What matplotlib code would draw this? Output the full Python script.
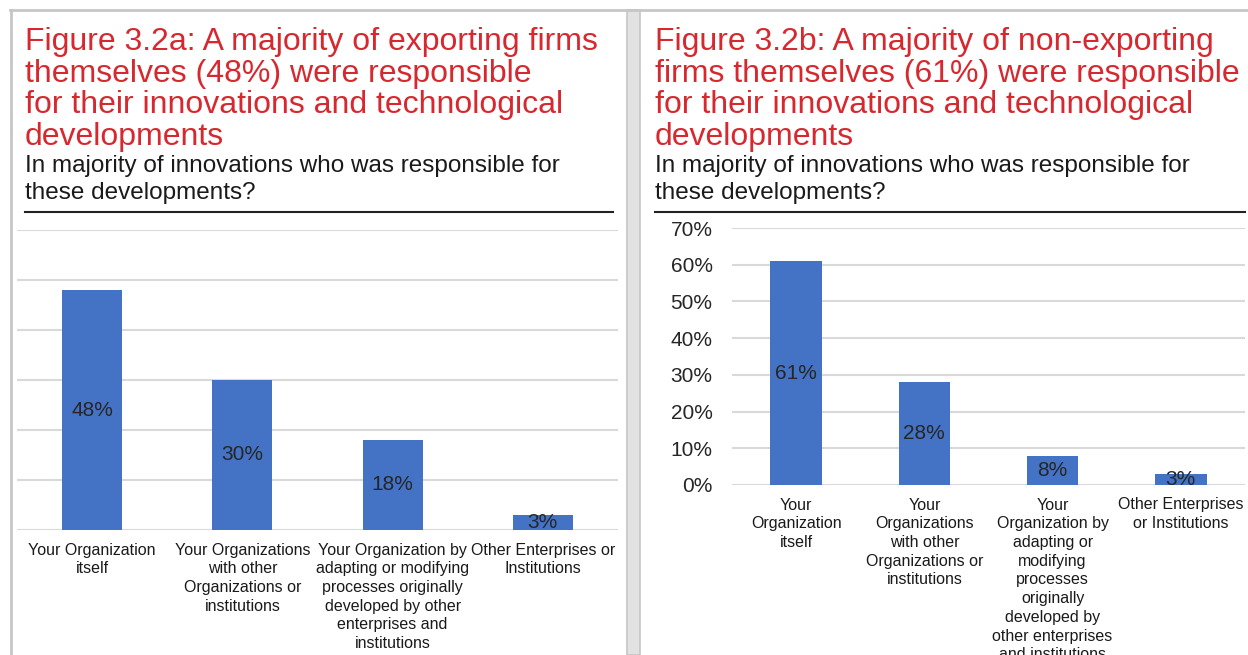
import matplotlib
matplotlib.use("Agg")
import matplotlib.pyplot as plt
from matplotlib.lines import Line2D
from matplotlib.patches import Rectangle
from matplotlib.ticker import PercentFormatter

plt.rcParams['font.family'] = ['Liberation Sans', 'DejaVu Sans']

# data
labels_a = ['Your Organization\nitself',
            'Your Organizations\nwith other\nOrganizations or\ninstitutions',
            'Your Organization by\nadapting or modifying\nprocesses originally\ndeveloped by other\nenterprises and\ninstitutions',
            'Other Enterprises or\nInstitutions']
values_a = [0.48, 0.30, 0.18, 0.03]

labels_b = ['Your\nOrganization\nitself',
            'Your\nOrganizations\nwith other\nOrganizations or\ninstitutions',
            'Your\nOrganization by\nadapting or\nmodifying\nprocesses\noriginally\ndeveloped by\nother enterprises\nand institutions',
            'Other Enterprises\nor Institutions']
values_b = [0.61, 0.28, 0.08, 0.03]

title_a = ('Figure 3.2a: A majority of exporting firms\nthemselves (48%) were responsible\n'
           'for their innovations and technological\ndevelopments')
title_b = ('Figure 3.2b: A majority of non-exporting\nfirms themselves (61%) were responsible\n'
           'for their innovations and technological\ndevelopments')
subtitle = 'In majority of innovations who was responsible for\nthese developments?'

RED = '#d7282f'
BLUE = '#4472c4'
GRID = '#d9d9d9'
W, H = 1248, 655

fig = plt.figure(figsize=(12.48, 6.55), dpi=100)


def fx(px):
    return px / W


def fy(py):
    return 1 - py / H


# panel frames
frame = '#c6c6c6'
fig.add_artist(Line2D([fx(10), fx(1248)], [fy(10), fy(10)], color=frame, lw=2))
fig.add_artist(Line2D([fx(11), fx(11)], [fy(10), fy(655)], color=frame, lw=2))
fig.add_artist(Rectangle((fx(627), 0), fx(13), fy(10), facecolor='#e2e2e2',
                         edgecolor='#c6c6c6', lw=1.2))


def panel(x0, x1, ax_box, labels, values, title, ymax, show_y):
    # va='baseline' on multi-line text anchors the last line
    fig.text(fx(x0), fy(145), title, color=RED, fontsize=23, va='baseline',
             ha='left', linespacing=1.07)
    fig.text(fx(x0), fy(199), subtitle, color='#1a1a1a', fontsize=17.5,
             va='baseline', ha='left', linespacing=1.29)
    fig.add_artist(Line2D([fx(x0), fx(x1)], [fy(212), fy(212)], color='#222222', lw=1.5))

    ax = fig.add_axes(ax_box)
    x = range(len(values))
    bars = ax.bar(x, values, width=0.4, color=BLUE, zorder=3)
    ax.bar_label(bars, labels=[f'{v:.0%}' for v in values], label_type='center',
                 fontsize=15, color='#262626')
    ax.set_xlim(-0.5, len(values) - 0.5)
    ax.set_ylim(0, ymax)
    ax.set_yticks([i / 10 for i in range(int(round(ymax * 10)) + 1)])
    ax.yaxis.grid(True, color=GRID, lw=1.5, zorder=0)
    ax.set_axisbelow(True)
    for s in ax.spines.values():
        s.set_visible(False)
    ax.set_xticks(list(x))
    ax.set_xticklabels(labels, fontsize=11.5, color='#1a1a1a', linespacing=1.31)
    ax.tick_params(axis='x', length=0, pad=9)
    if show_y:
        ax.yaxis.set_major_formatter(PercentFormatter(1.0, decimals=0))
        ax.tick_params(axis='y', length=0, pad=14, labelsize=15, labelcolor='#262626')
    else:
        ax.tick_params(axis='y', length=0, labelleft=False)
    return ax


panel(25, 613, [fx(17), fy(530), fx(601), 300 / H], labels_a, values_a, title_a, 0.6, False)
panel(655, 1245, [fx(732), fy(485), fx(513), 257 / H], labels_b, values_b, title_b, 0.7, True)

fig.savefig('out.png', dpi=100, facecolor='white')
